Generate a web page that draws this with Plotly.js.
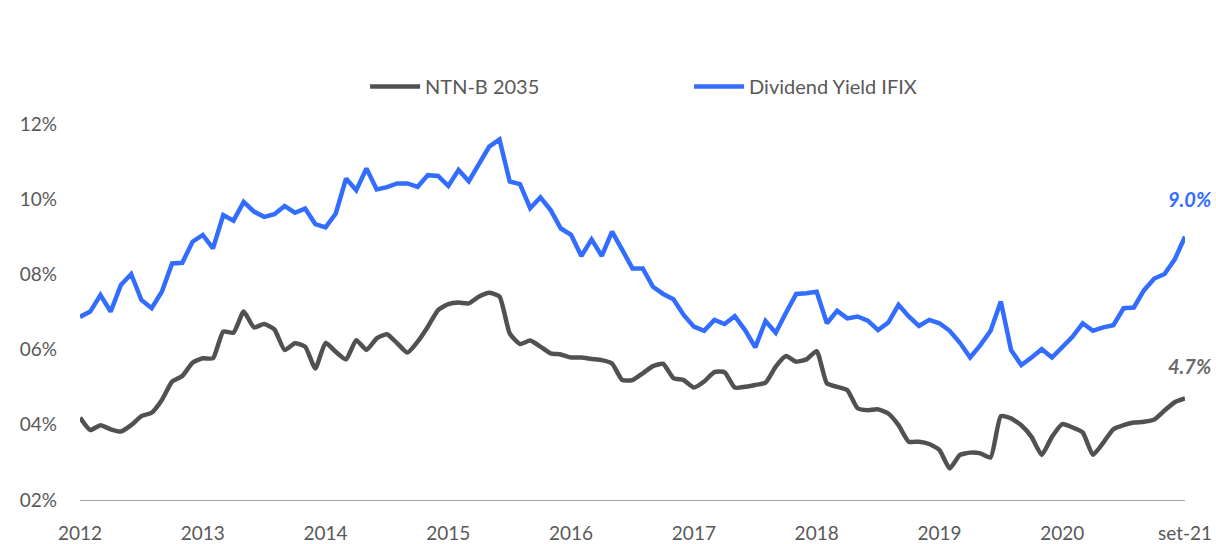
<!DOCTYPE html>
<html>
<head>
<meta charset="utf-8">
<script src="https://cdn.plot.ly/plotly-3.0.1.min.js"></script>
<style>html,body{margin:0;padding:0;background:#fff}#chart{width:1216px;height:544px}</style>
</head>
<body>
<div id="chart"></div>
<script>
// Monthly observations (index 0 = start of 2012, last = set-21)
const ntnb2035 = [
  4.19,3.86,3.99,3.88,3.82,3.99,4.23,4.32,4.66,5.15,5.30,5.65,
  5.77,5.77,6.48,6.45,7.01,6.59,6.68,6.54,5.99,6.17,6.08,5.50,
  6.18,5.94,5.74,6.25,5.99,6.30,6.41,6.17,5.92,6.21,6.61,7.05,
  7.21,7.25,7.23,7.41,7.51,7.41,6.43,6.15,6.24,6.08,5.90,5.87,
  5.79,5.79,5.75,5.72,5.63,5.19,5.19,5.37,5.56,5.62,5.24,5.19,
  4.99,5.15,5.40,5.40,4.99,5.01,5.06,5.12,5.55,5.83,5.68,5.74,
  5.96,5.10,5.01,4.92,4.44,4.39,4.41,4.30,3.99,3.55,3.55,3.49,
  3.33,2.84,3.20,3.26,3.24,3.13,4.23,4.17,3.99,3.68,3.20,3.68,
  4.02,3.93,3.80,3.20,3.52,3.88,3.99,4.06,4.08,4.14,4.38,4.60,
  4.70
];
const dyIfix = [
  6.87,7.01,7.45,7.01,7.72,8.01,7.32,7.10,7.54,8.29,8.31,8.87,
  9.05,8.69,9.58,9.43,9.93,9.67,9.53,9.60,9.82,9.64,9.75,9.34,
  9.25,9.62,10.55,10.24,10.82,10.26,10.32,10.42,10.42,10.33,10.64,10.62,
  10.35,10.78,10.48,10.95,11.40,11.59,10.47,10.40,9.76,10.05,9.71,9.22,
  9.05,8.49,8.93,8.49,9.14,8.65,8.16,8.16,7.67,7.48,7.34,6.92,
  6.61,6.50,6.79,6.68,6.89,6.52,6.06,6.76,6.45,6.98,7.48,7.50,
  7.54,6.70,7.03,6.83,6.88,6.77,6.52,6.72,7.19,6.88,6.63,6.79,
  6.70,6.50,6.18,5.79,6.12,6.50,7.28,5.99,5.59,5.79,6.01,5.79,
  6.06,6.34,6.70,6.50,6.59,6.65,7.10,7.12,7.58,7.89,8.01,8.40,
  9.00
];
const tickPos = [0,12,24,36,48,60,72,84,96,108];
const tickLabels = ["2012","2013","2014","2015","2016","2017","2018","2019","2020","set-21"];
const yTicks = [2,4,6,8,10,12];
const yTickLabels = ["02%","04%","06%","08%","10%","12%"];
const seriesNames = ["NTN-B 2035","Dividend Yield IFIX"];

const idx = ntnb2035.map((_, i) => i);
const last = idx.length - 1;

const grayC = '#515151';
const blueC = '#336dff';
const font = 'Lato, "Open Sans", "DejaVu Sans", sans-serif';

const traces = [
  {x: idx, y: ntnb2035, name: seriesNames[0], type: 'scatter', mode: 'lines',
   line: {color: grayC, width: 4.5, shape: 'spline', smoothing: 0.5}},
  {x: idx, y: dyIfix, name: seriesNames[1], type: 'scatter', mode: 'lines',
   line: {color: blueC, width: 4.5}}
];

const layout = {
  width: 1216, height: 544,
  paper_bgcolor: '#fff', plot_bgcolor: '#fff',
  margin: {l: 80, r: 31, t: 124, b: 44},
  font: {family: font, size: 19, color: '#595959'},
  showlegend: true,
  legend: {orientation: 'h', x: 0.258, xanchor: 'left', y: 1.10, yanchor: 'middle',
           itemwidth: 50, entrywidth: 259, font: {family: font, size: 20, color: '#595959'},
           traceorder: 'normal'},
  xaxis: {range: [0, last], tickmode: 'array', tickvals: tickPos, ticktext: tickLabels,
          showgrid: false, zeroline: false, showline: true, linecolor: '#a6a6a6', linewidth: 1.2,
          ticks: '', ticklabelstandoff: 16, fixedrange: true},
  yaxis: {range: [2, 12], tickmode: 'array', tickvals: yTicks, ticktext: yTickLabels,
          showgrid: false, zeroline: false, showline: false, ticks: '',
          ticklabelstandoff: 22, fixedrange: true},
  annotations: [
    {x: last, y: dyIfix[last], xref: 'x', yref: 'y', text: '<b><i>' + dyIfix[last].toFixed(1) + '%</i></b>',
     showarrow: false, yshift: 38, xshift: 4, font: {family: font, size: 20, color: blueC}},
    {x: last, y: ntnb2035[last], xref: 'x', yref: 'y', text: '<b><i>' + ntnb2035[last].toFixed(1) + '%</i></b>',
     showarrow: false, yshift: 32, xshift: 4, font: {family: font, size: 20, color: '#6b6b6b'}}
  ]
};

Plotly.newPlot('chart', traces, layout, {displayModeBar: false, staticPlot: true});
</script>
</body>
</html>
